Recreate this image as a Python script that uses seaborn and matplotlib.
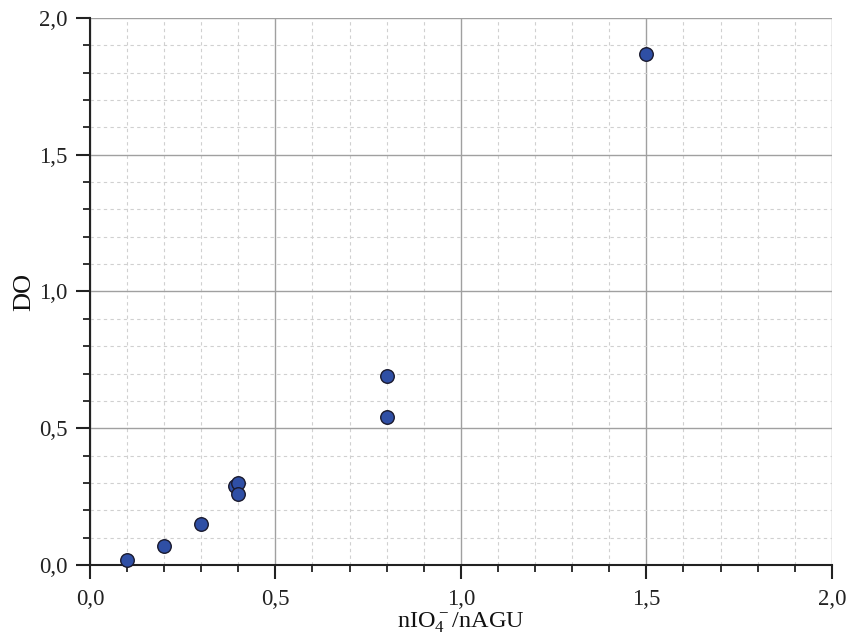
import pandas as pd
import seaborn as sns
import matplotlib.pyplot as plt
from matplotlib.ticker import MultipleLocator, FuncFormatter

# ratio of periodate to anhydroglucose units vs. degree of oxidation
ratio = [0.1, 0.2, 0.3, 0.39, 0.40, 0.40, 0.8, 0.8, 1.5]
do = [0.02, 0.07, 0.15, 0.29, 0.30, 0.26, 0.69, 0.54, 1.87]

df = pd.DataFrame({'ratio': ratio, 'DO': do})

sns.set_style('white')
plt.rcParams['font.family'] = ['Liberation Serif', 'DejaVu Serif']
plt.rcParams['mathtext.default'] = 'regular'

fig = plt.figure(figsize=(8.48, 6.44), dpi=100)
ax = fig.add_axes([0.106, 0.1227, 0.875, 0.8494])

sns.scatterplot(x='ratio', y='DO', data=df, ax=ax, s=95, color='#2f4fa5',
                edgecolor='#1a1a2e', linewidth=1.0, zorder=3, clip_on=False)

ax.set_xlim(0, 2.0)
ax.set_ylim(0, 2.0)
ax.xaxis.set_major_locator(MultipleLocator(0.5))
ax.yaxis.set_major_locator(MultipleLocator(0.5))
ax.xaxis.set_minor_locator(MultipleLocator(0.1))
ax.yaxis.set_minor_locator(MultipleLocator(0.1))
fmt = FuncFormatter(lambda v, p: f'{v:.1f}'.replace('.', ','))
ax.xaxis.set_major_formatter(fmt)
ax.yaxis.set_major_formatter(fmt)

ax.grid(which='major', color='#a0a0a0', linewidth=1.0, linestyle='-')
ax.grid(which='minor', color='#d0d0d0', linewidth=0.8, linestyle=(0, (3, 3)))
ax.set_axisbelow(True)

for s in ['top', 'right']:
    ax.spines[s].set_visible(False)
for s in ['left', 'bottom']:
    ax.spines[s].set_color('#222222')
    ax.spines[s].set_linewidth(1.5)

ax.tick_params(which='major', direction='out', length=10, width=1.5,
               colors='#222222', labelsize=16.5)
ax.tick_params(axis='y', which='major', pad=6)
ax.tick_params(axis='x', which='major', pad=7)
ax.tick_params(which='minor', direction='out', length=5, width=1.3, colors='#222222')
ax.tick_params(axis='x', which='both', bottom=True)
ax.tick_params(axis='y', which='both', left=True)

ax.set_xlabel('nIO$_4^-$/nAGU', fontsize=17.5, labelpad=1, color='#111111')
ax.set_ylabel('DO', fontsize=19, labelpad=3, color='#111111')

plt.savefig('out.png', dpi=100)
